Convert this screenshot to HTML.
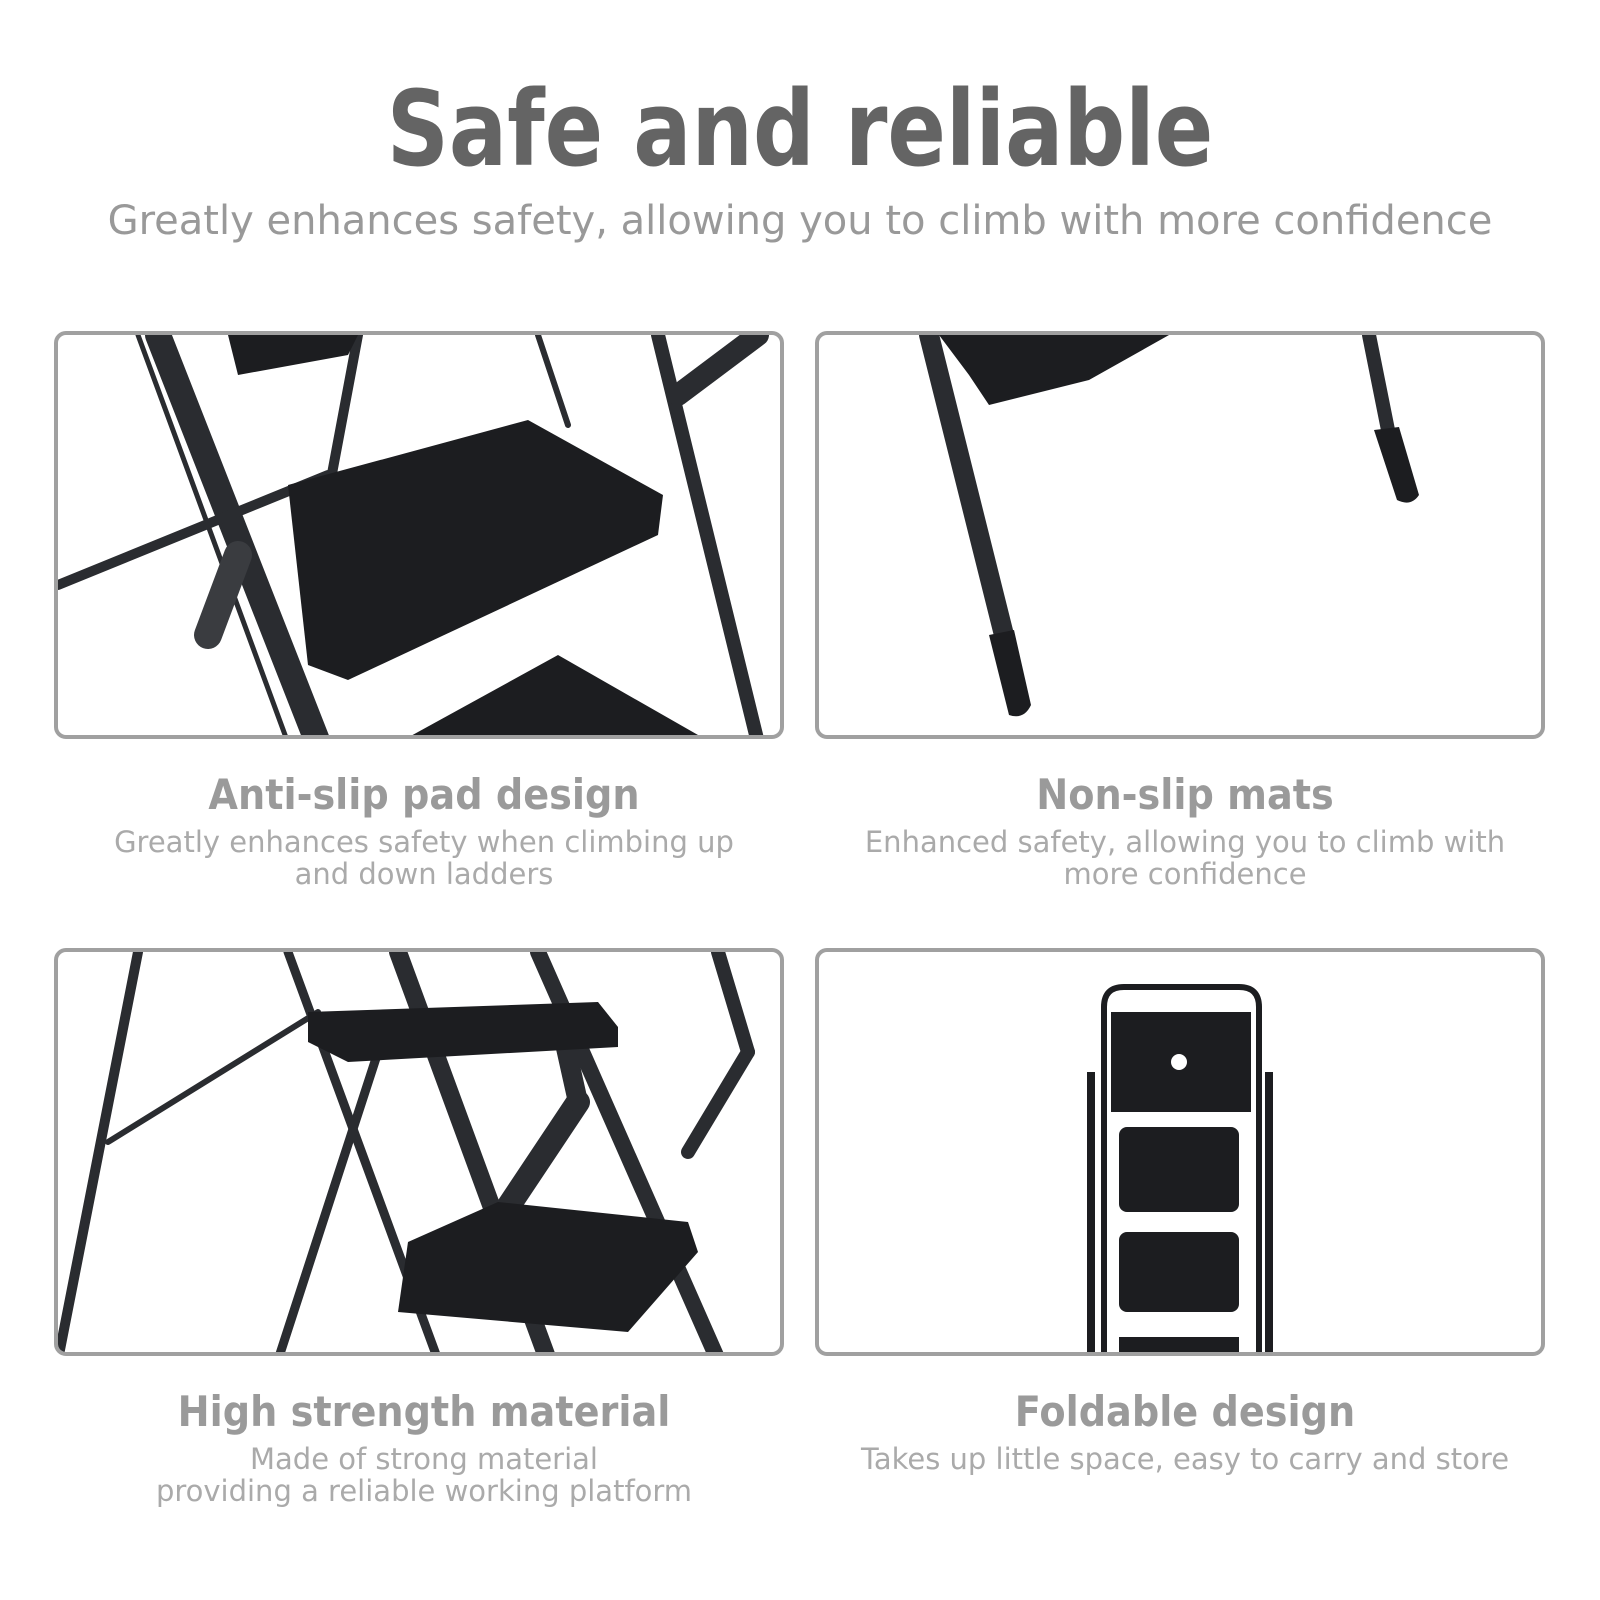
<!DOCTYPE html>
<html><head><style>
body{margin:0;width:1600px;height:1600px;background:#fff;position:relative;overflow:hidden;font-family:"DejaVu Sans","Liberation Sans",sans-serif}
.t{position:absolute;left:0;width:1600px;text-align:center;white-space:nowrap}
.p{position:absolute;width:730px;height:408px;border:4px solid #a0a0a0;border-radius:12px;overflow:hidden;box-sizing:border-box;background:#fff}
.c{position:absolute;width:740px;text-align:center;white-space:nowrap}
.h{font-size:42px;font-weight:bold;color:#9a9a9a;transform:scaleX(0.91)}
.s{font-size:29px;color:#aaa;line-height:32px}
</style></head><body>
<div class="t" style="top:68px;font-size:104px;font-weight:bold;color:#646464;transform:scaleX(0.83)">Safe and reliable</div>
<div class="t" style="top:198px;font-size:40px;color:#999">Greatly enhances safety, allowing you to climb with more confidence</div>

<div class="p" style="left:54px;top:331px">
<svg width="730" height="408">
<g stroke="#2a2c30" stroke-linecap="round" fill="none">
<line x1="100" y1="0" x2="260" y2="408" stroke-width="26"/>
<line x1="80" y1="0" x2="230" y2="408" stroke-width="5"/>
<line x1="600" y1="0" x2="700" y2="408" stroke-width="14"/>
<line x1="300" y1="0" x2="270" y2="160" stroke-width="10"/>
<line x1="480" y1="0" x2="510" y2="90" stroke-width="6"/>
<line x1="0" y1="250" x2="270" y2="140" stroke-width="10"/>
<line x1="620" y1="60" x2="700" y2="0" stroke-width="22"/>
<line x1="180" y1="220" x2="150" y2="300" stroke-width="28" stroke="#3a3c40"/>
</g>
<polygon points="230,150 470,85 605,160 600,200 290,345 250,330" fill="#1c1d20"/>
<polygon points="340,408 500,320 640,400 640,408" fill="#1c1d20"/>
<polygon points="170,0 300,0 290,20 180,40" fill="#1c1d20"/>
</svg></div>

<div class="p" style="left:815px;top:331px">
<svg width="730" height="408">
<g stroke="#2a2c30" stroke-linecap="round" fill="none">
<line x1="110" y1="0" x2="185" y2="300" stroke-width="20"/>
<line x1="550" y1="0" x2="570" y2="100" stroke-width="14"/>
</g>
<polygon points="120,0 350,0 270,45 170,70 150,40" fill="#1c1d20"/>
<path d="M170,300 L195,295 L212,370 Q205,385 190,380 Z" fill="#1c1d20"/>
<path d="M555,95 L580,92 L600,160 Q592,172 578,165 Z" fill="#1c1d20"/>
</svg></div>

<div class="p" style="left:54px;top:948px">
<svg width="730" height="408">
<g stroke="#2a2c30" stroke-linecap="round" fill="none">
<line x1="80" y1="0" x2="0" y2="408" stroke-width="10"/>
<line x1="230" y1="0" x2="380" y2="408" stroke-width="9"/>
<line x1="340" y1="0" x2="490" y2="408" stroke-width="18"/>
<line x1="480" y1="0" x2="660" y2="408" stroke-width="16"/>
<line x1="660" y1="0" x2="690" y2="100" stroke-width="14"/>
<line x1="690" y1="100" x2="630" y2="200" stroke-width="14"/>
<line x1="50" y1="190" x2="260" y2="60" stroke-width="6"/>
<line x1="320" y1="100" x2="220" y2="408" stroke-width="9"/>
<line x1="520" y1="150" x2="420" y2="300" stroke-width="24"/>
<line x1="520" y1="150" x2="500" y2="60" stroke-width="20"/>
</g>
<polygon points="250,60 540,50 560,75 560,95 290,110 250,90" fill="#1c1d20"/>
<polygon points="350,290 440,250 630,270 640,300 570,380 340,360" fill="#1c1d20"/>
</svg></div>

<div class="p" style="left:815px;top:948px">
<svg width="730" height="408">
<g fill="none" stroke="#1c1d20">
<path d="M285,408 V55 Q285,35 305,35 H420 Q440,35 440,55 V408" stroke-width="6"/>
<line x1="272" y1="120" x2="272" y2="408" stroke-width="8"/>
<line x1="450" y1="120" x2="450" y2="408" stroke-width="8"/>
</g>
<rect x="292" y="60" width="140" height="100" fill="#1c1d20"/>
<circle cx="360" cy="110" r="8" fill="#fff"/>
<rect x="300" y="175" width="120" height="85" rx="8" fill="#1c1d20"/>
<rect x="300" y="280" width="120" height="80" rx="8" fill="#1c1d20"/>
<rect x="300" y="385" width="120" height="23" fill="#1c1d20"/>
</svg></div>

<div class="c h" style="left:54px;top:770px">Anti-slip pad design</div>
<div class="c s" style="left:54px;top:826px">Greatly enhances safety when climbing up<br>and down ladders</div>
<div class="c h" style="left:815px;top:770px">Non-slip mats</div>
<div class="c s" style="left:815px;top:826px">Enhanced safety, allowing you to climb with<br>more confidence</div>
<div class="c h" style="left:54px;top:1387px">High strength material</div>
<div class="c s" style="left:54px;top:1443px">Made of strong material<br>providing a reliable working platform</div>
<div class="c h" style="left:815px;top:1387px">Foldable design</div>
<div class="c s" style="left:815px;top:1443px">Takes up little space, easy to carry and store</div>
</body></html>
